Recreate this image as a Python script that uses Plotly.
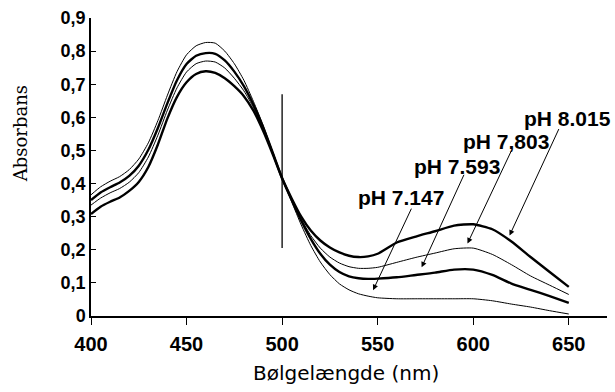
import plotly.graph_objects as go

# ---------------- data ----------------
wavelength = [400, 405, 410, 415, 420, 425, 430, 435, 440, 445, 450, 455, 460, 465, 470,
              475, 480, 485, 490, 495, 500, 505, 510, 515, 520, 525, 530, 535, 540, 545,
              550, 560, 570, 580, 590, 600, 610, 620, 630, 640, 650]

abs_ph7147 = [0.366, 0.390, 0.407, 0.421, 0.442, 0.474, 0.523, 0.590, 0.667, 0.738, 0.789,
              0.816, 0.826, 0.824, 0.800, 0.762, 0.712, 0.648, 0.577, 0.497, 0.416, 0.345,
              0.275, 0.213, 0.163, 0.125, 0.097, 0.079, 0.067, 0.060, 0.055, 0.052, 0.052,
              0.052, 0.052, 0.052, 0.046, 0.036, 0.027, 0.016, 0.006]
abs_ph7593 = [0.350, 0.373, 0.389, 0.403, 0.423, 0.454, 0.502, 0.568, 0.643, 0.712, 0.761,
              0.786, 0.794, 0.792, 0.772, 0.738, 0.694, 0.638, 0.571, 0.495, 0.416, 0.350,
              0.288, 0.233, 0.188, 0.155, 0.133, 0.120, 0.114, 0.112, 0.113, 0.117, 0.124,
              0.131, 0.140, 0.140, 0.124, 0.098, 0.079, 0.060, 0.040]
abs_ph7803 = [0.335, 0.356, 0.372, 0.385, 0.404, 0.433, 0.480, 0.546, 0.622, 0.689, 0.737,
              0.762, 0.770, 0.767, 0.749, 0.718, 0.680, 0.630, 0.566, 0.493, 0.416, 0.352,
              0.292, 0.243, 0.205, 0.178, 0.160, 0.149, 0.144, 0.144, 0.147, 0.162, 0.177,
              0.190, 0.203, 0.205, 0.186, 0.155, 0.121, 0.093, 0.065]
abs_ph8015 = [0.308, 0.330, 0.345, 0.358, 0.378, 0.405, 0.450, 0.518, 0.597, 0.662, 0.706,
              0.731, 0.739, 0.734, 0.718, 0.694, 0.664, 0.620, 0.560, 0.490, 0.416, 0.355,
              0.300, 0.258, 0.228, 0.207, 0.192, 0.182, 0.178, 0.180, 0.188, 0.222, 0.240,
              0.256, 0.273, 0.277, 0.262, 0.225, 0.178, 0.133, 0.088]

series_labels = ["pH 7.147", "pH 7.593", "pH 7,803", "pH 8.015"]
series_values = [abs_ph7147, abs_ph7593, abs_ph7803, abs_ph8015]

# arrow tips (wavelength, absorbance) pointing at each curve
arrow_wl = [547.6, 573.0, 597.0, 619.0]
arrow_abs = [0.078, 0.147, 0.219, 0.243]

# isosbestic marker line
marker_wl = 500
marker_abs = [0.205, 0.670]

x_ticks = [400, 450, 500, 550, 600, 650]
y_ticks = [0, 0.1, 0.2, 0.3, 0.4, 0.5, 0.6, 0.7, 0.8, 0.9]
y_ticktext = ["0", "0,1", "0,2", "0,3", "0,4", "0,5", "0,6", "0,7", "0,8", "0,9"]

# ---------------- styles / positions ----------------
line_widths = [1.0, 2.4, 1.0, 2.4]
arrow_tail_px = [(39, -83), (43, -94), (44, -93), (50, -108)]
label_pos = [(562.2, 0.357), (591.5, 0.453), (617.2, 0.526), (649.1, 0.598)]

fig = go.Figure()
for name, vals, w in zip(series_labels, series_values, line_widths):
    fig.add_trace(go.Scatter(x=wavelength, y=vals, mode="lines", name=name,
                             line=dict(color="black", width=w, shape="spline", smoothing=0.6),
                             showlegend=False))

fig.add_shape(type="line", x0=marker_wl, x1=marker_wl, y0=marker_abs[0], y1=marker_abs[1],
              xref="x", yref="y", line=dict(color="black", width=1.3))

label_font = dict(family="Liberation Sans", size=21, color="black", weight="bold")
for lab, tx, ty, (ax, ay), (lx, ly) in zip(series_labels, arrow_wl, arrow_abs, arrow_tail_px, label_pos):
    fig.add_annotation(x=tx, y=ty, xref="x", yref="y", text="", showarrow=True,
                       ax=ax, ay=ay, arrowhead=2, arrowsize=1.1, arrowwidth=1,
                       arrowcolor="black", standoff=0, startstandoff=0)
    fig.add_annotation(x=lx, y=ly, xref="x", yref="y", text=lab, showarrow=False,
                       font=label_font, xanchor="center", yanchor="middle")

fig.add_annotation(x=-0.1376, y=0.613, xref="paper", yref="paper", text="Absorbans",
                   textangle=-90, showarrow=False, xanchor="center", yanchor="middle",
                   font=dict(family="DejaVu Serif", size=18, color="black"))
fig.add_annotation(x=0.494, y=-0.19, xref="paper", yref="paper", text="Bølgelængde (nm)",
                   showarrow=False, xanchor="center", yanchor="middle",
                   font=dict(family="DejaVu Sans", size=20, color="black"))

fig.update_xaxes(range=[400, 670], tickvals=x_ticks, ticks="outside", ticklen=7,
                 tickwidth=1.3, tickcolor="black", showline=True, linecolor="black",
                 linewidth=1.5, showgrid=False, zeroline=False, ticklabelstandoff=2,
                 tickfont=dict(family="Liberation Sans", size=20, color="black", weight="bold"))
fig.update_yaxes(range=[0, 0.9], tickvals=y_ticks, ticktext=y_ticktext, ticks="inside",
                 ticklen=5, tickwidth=1.3, tickcolor="black", showline=True,
                 linecolor="black", linewidth=1.5, showgrid=False, zeroline=False,
                 tickfont=dict(family="Liberation Sans", size=18, color="black", weight="bold"))

fig.update_layout(width=615, height=392, margin=dict(l=91, r=8, t=16, b=76),
                  plot_bgcolor="white", paper_bgcolor="white")

fig.write_html("out.html")
